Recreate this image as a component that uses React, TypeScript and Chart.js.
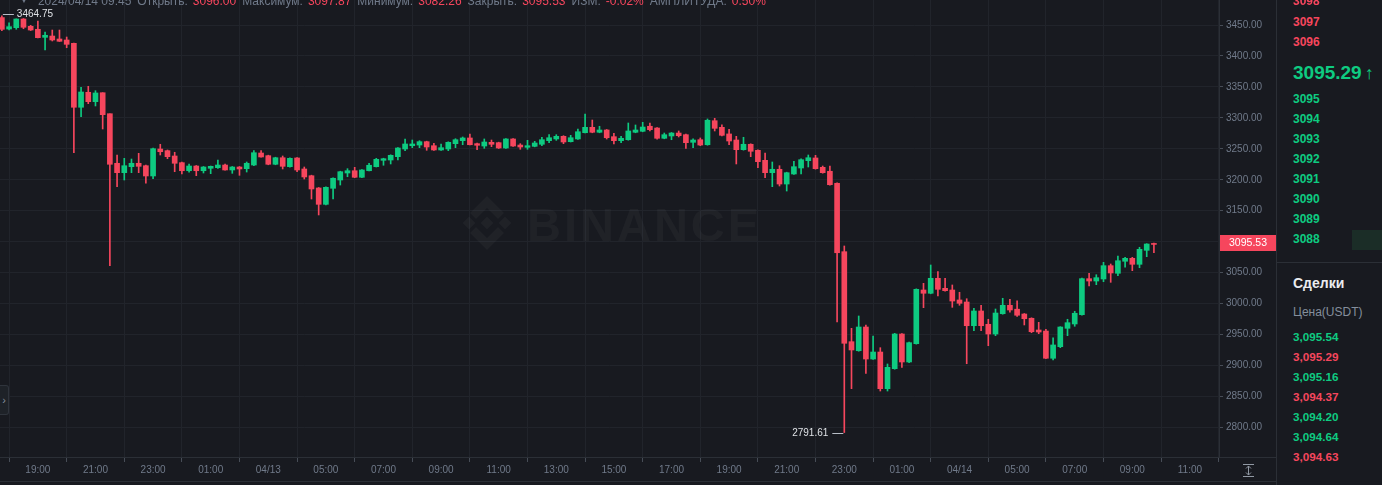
import React, { useEffect, useRef } from 'react';
import { Chart, registerables } from 'chart.js';
Chart.register(...registerables);

// 15-minute candles, 2024/04/12 17:45 .. 2024/04/14 09:45
const opens = [3462,3443.5,3445.7,3459.7,3447.9,3443.1,3430.1,3432.2,3427.4,3425.8,3420.4,3317.1,3341.3,3326.1,3340.6,3306.7,3226.6,3211.4,3221.1,3226.6,3222.7,3206.1,3249.7,3247.0,3238.4,3227.6,3214.6,3222.2,3214.6,3218.5,3219.5,3223.8,3215.8,3220.6,3217.9,3223.8,3243.2,3238.9,3225.0,3235.6,3221.1,3235.2,3217.4,3206.5,3186.7,3160.3,3186.2,3199.6,3210.9,3214.6,3204.0,3214.6,3221.1,3231.4,3231.9,3237.3,3249.7,3255.0,3256.1,3261.5,3255.0,3248.1,3249.7,3258.3,3263.1,3267.5,3258.3,3254.5,3260.5,3259.9,3251.3,3265.9,3256.1,3252.4,3254.0,3257.3,3263.1,3265.9,3270.2,3261.5,3265.9,3276.0,3284.7,3276.7,3280.4,3269.6,3263.1,3264.7,3276.7,3278.3,3286.4,3283.6,3267.0,3270.7,3275.5,3272.8,3260.5,3264.7,3256.6,3295.4,3284.7,3274.0,3264.2,3248.6,3257.3,3247.6,3231.4,3211.4,3216.9,3193.1,3209.3,3219.0,3230.8,3235.2,3220.1,3213.7,3194.3,3083.8,2938.4,2923.8,2962.1,2910.4,2921.7,2862.5,2894.8,2950.8,2905.6,2935.2,3021.9,3016.6,3040.8,3024.6,3021.9,3005.8,3002.5,2964.2,2988.0,2966.5,2950.8,2983.6,2997.2,2990.9,2983.1,2976.2,2957.3,2955.6,2911.6,2930.3,2960.0,2967.0,2982.0,3040.2,3036.4,3039.7,3061.2,3048.9,3068.3,3073.1,3063.4,3086.0,3096.00];
const highs = [3464.75,3453.7,3460,3460.5,3449.5,3456.5,3438.7,3441.9,3441.9,3430.6,3420.9,3349.4,3351.0,3343.9,3340.6,3306.7,3240.0,3234.6,3233.5,3242.7,3223.8,3251.3,3257.3,3248.1,3244.4,3228.7,3225.5,3223.0,3221.4,3222.2,3231.9,3225.5,3221.4,3221.4,3228.7,3247.0,3247.0,3239.7,3236.4,3238.4,3235.5,3236.0,3220.6,3207.4,3187.5,3188.6,3203.2,3213.8,3217.9,3220.1,3216.6,3226.6,3234.6,3234.8,3240.3,3252.1,3265.9,3264.2,3263.1,3262.3,3258.9,3257.8,3261.3,3266.3,3269.1,3273.9,3259.1,3265.9,3264.2,3260.7,3266.7,3266.7,3258.3,3263.7,3262.1,3268.6,3272.8,3272.8,3271.2,3271.8,3282.0,3306.2,3296.5,3286.4,3281.2,3275.1,3270.2,3291.7,3288.5,3292.8,3291.7,3284.4,3275.5,3276.3,3278.8,3273.6,3266.3,3267.5,3298.2,3299.3,3288.8,3281.5,3270.2,3268.6,3258.1,3248.4,3243.2,3228.7,3222.7,3212.2,3229.8,3234.0,3240.0,3239.5,3222.2,3222.2,3195.1,3093.0,2960.0,2979.9,2965.4,2947.6,2928.7,2902.4,2951.9,2951.6,2937.6,3023.8,3032.7,3062.3,3051.5,3040.8,3030.0,3018.2,3007.8,2992.3,2997.2,2974.6,2991.2,3008.5,3006.9,3004.6,2983.9,2977.0,2969.7,2958.4,2944.8,2962.6,2974.6,2987.5,3041.0,3048.9,3046.6,3066.6,3063.9,3076.8,3074.7,3074.7,3090.9,3096.7,3097.87];
const lows = [3441,3441.9,3443.1,3444.0,3441.1,3429.0,3409.6,3424.2,3423.4,3413.3,3243.7,3301.9,3322.9,3319.2,3282.0,3061.2,3188.8,3199.6,3211.4,3211.4,3194.3,3201.7,3240.0,3234.0,3213.0,3209.3,3212.1,3206.6,3210.9,3209.8,3218.5,3215.3,3210.4,3207.2,3212.5,3222.7,3236.3,3224.2,3224.2,3217.4,3220.3,3213.0,3201.2,3168.9,3143.1,3159.2,3168.9,3191.5,3204.9,3203.3,3203.2,3214.2,3220.6,3223.4,3225.5,3231.9,3247.0,3251.8,3251.8,3247.6,3247.3,3247.3,3247.0,3251.8,3256.6,3256.1,3248.6,3250.8,3253.4,3250.5,3250.8,3253.7,3249.2,3249.2,3253.2,3255.0,3259.9,3263.7,3258.3,3261.0,3265.0,3275.5,3275.9,3275.9,3265.8,3257.8,3259.9,3263.9,3275.9,3277.5,3278.8,3265.4,3266.2,3264.7,3269.1,3250.8,3251.8,3255.0,3255.8,3278.8,3270.7,3256.6,3225.5,3247.8,3237.3,3219.5,3203.3,3188.8,3189.9,3181.8,3208.5,3209.3,3220.6,3217.1,3210.6,3191.2,2970.2,2791.61,2862.5,2923.0,2887.3,2909.6,2858.7,2858.7,2893.9,2897.0,2904.5,2934.4,2993.3,3015.8,3012.2,3020.0,2993.9,2997.2,2902.8,2956.2,2956.2,2931.9,2948.1,2982.8,2985.9,2979.4,2965.4,2952.9,2951.3,2910.8,2908.8,2928.7,2948.1,2963.3,2981.2,3028.4,3030.5,3035.3,3034.3,3045.0,3058.6,3053.1,3057.9,3075.7,3082.26];
const closes = [3443,3447.3,3459.7,3446.3,3441.9,3429.5,3433.4,3425.8,3423.7,3418.8,3317.1,3341.8,3326.1,3340.2,3305.1,3225.0,3211.4,3222.7,3226.6,3221.7,3206.1,3250.2,3245.3,3237.3,3226.6,3214.6,3222.2,3214.6,3220.6,3221.7,3223.8,3215.8,3220.6,3217.4,3226.6,3243.7,3236.8,3225.0,3235.6,3221.7,3234.6,3215.8,3204.5,3185.1,3160.3,3187.8,3202.4,3213.0,3214.6,3204.0,3215.8,3223.4,3233.0,3234.0,3239.5,3251.3,3257.8,3257.8,3261.5,3252.9,3248.1,3251.8,3260.5,3264.7,3267.5,3256.6,3255.7,3261.0,3257.3,3251.3,3265.9,3254.5,3252.9,3255.0,3259.4,3264.7,3267.9,3270.2,3261.0,3267.9,3277.6,3284.7,3276.7,3280.4,3267.9,3263.1,3267.0,3278.8,3280.4,3285.2,3280.9,3267.0,3272.8,3275.5,3271.2,3259.9,3264.2,3256.1,3296.1,3283.1,3271.8,3262.6,3248.6,3257.3,3246.0,3229.2,3211.4,3216.9,3193.1,3211.4,3221.1,3232.4,3235.6,3217.9,3211.4,3192.0,3082.1,2935.8,2925.0,2962.1,2910.4,2921.7,2862.5,2897.0,2950.8,2905.6,2936.8,3023.0,3016.6,3040.8,3023.0,3020.8,3004.1,3000.4,2964.2,2988.0,2964.2,2950.8,2984.7,2997.2,2989.6,2981.1,2975.5,2954.5,2954.0,2911.6,2933.1,2962.1,2969.1,2984.3,3040.2,3036.4,3041.8,3061.2,3049.4,3069.2,3073.1,3063.4,3087.6,3096.2,3095.53];

const xTickIndex = [5,13,21,29,37,45,53,61,69,77,85,93,101,109,117,125,133,141,149,157,165];
const xTickLabels = ['19:00','21:00','23:00','01:00','04/13','05:00','07:00','09:00','11:00','13:00','15:00','17:00','19:00','21:00','23:00','01:00','04/14','05:00','07:00','09:00','11:00'];
const yTicks = [2800,2850,2900,2950,3000,3050,3100,3150,3200,3250,3300,3350,3400,3450];

const headerLabels = ['Открыть:','Максимум:','Минимум:','Закрыть:','ИЗМ:','АМПЛИТУДА:'];
const headerValues = ['3096.00','3097.87','3082.26','3095.53','-0.02%','0.50%'];
const askPrices = ['3098','3097','3096'];
const midPrice = '3095.29';
const bidPrices = ['3095','3094','3093','3092','3091','3090','3089','3088'];
const tradePrices = ['3,095.54','3,095.29','3,095.16','3,094.37','3,094.20','3,094.64','3,094.63'];
const tradeUp = [true,false,true,false,true,true,false];

const BG = '#181a20';
const UP = '#0ecb81';
const DOWN = '#f6465d';
const GRID = '#21242b';
const LINE = '#2b2f36';
const LABEL = '#707a8a';
const FONT = "'Liberation Sans', Arial, sans-serif";

const X_MIN = -0.26, X_MAX = 169.04;
const Y_MIN = 2752.1, Y_MAX = 3490.4;

const overlayPlugin = {
  id: 'overlay',
  beforeDatasetsDraw(chart: any) {
    const { ctx } = chart;
    ctx.save();
    ctx.fillStyle = 'rgba(255,255,255,0.035)';
    const cx = 487, cy = 223;
    const dia = (x: number, y: number, r: number) => {
      ctx.beginPath(); ctx.moveTo(x, y - r); ctx.lineTo(x + r, y); ctx.lineTo(x, y + r); ctx.lineTo(x - r, y); ctx.closePath(); ctx.fill();
    };
    dia(cx, cy, 6.5); dia(cx - 18, cy, 6.5); dia(cx + 18, cy, 6.5);
    const chev = (s: number) => {
      ctx.beginPath();
      ctx.moveTo(cx, cy - 27 * s);
      ctx.lineTo(cx + 17, cy - 10 * s);
      ctx.lineTo(cx + 11, cy - 4 * s);
      ctx.lineTo(cx, cy - 15 * s);
      ctx.lineTo(cx - 11, cy - 4 * s);
      ctx.lineTo(cx - 17, cy - 10 * s);
      ctx.closePath(); ctx.fill();
    };
    chev(1); chev(-1);
    ctx.font = `bold 47px ${FONT}`;
    try { (ctx as any).letterSpacing = '3px'; } catch (e) {}
    ctx.textBaseline = 'alphabetic';
    ctx.textAlign = 'left';
    ctx.fillText('BINANCE', 527, 241);
    try { (ctx as any).letterSpacing = '0px'; } catch (e) {}
    ctx.restore();
  },
  afterDraw(chart: any) {
    const { ctx, scales, chartArea } = chart;
    const xs = scales.x, ys = scales.y;
    ctx.save();
    let iMax = 0, iMin = 0;
    highs.forEach((v, i) => { if (v > highs[iMax]) iMax = i; });
    lows.forEach((v, i) => { if (v < lows[iMin]) iMin = i; });
    ctx.font = `10px ${FONT}`;
    ctx.textBaseline = 'middle';
    ctx.strokeStyle = '#b7bdc6';
    ctx.lineWidth = 1;
    ctx.fillStyle = '#dfe2e6';
    let px = xs.getPixelForValue(iMax), py = Math.round(ys.getPixelForValue(highs[iMax])) - 1.5;
    ctx.beginPath(); ctx.moveTo(px + 1, py); ctx.lineTo(px + 12, py); ctx.stroke();
    ctx.textAlign = 'left';
    ctx.fillText(highs[iMax].toFixed(2), px + 15, py);
    px = xs.getPixelForValue(iMin); py = Math.round(ys.getPixelForValue(lows[iMin])) + 0.5;
    ctx.beginPath(); ctx.moveTo(px - 12, py); ctx.lineTo(px - 1, py); ctx.stroke();
    ctx.textAlign = 'right';
    ctx.fillText(lows[iMin].toFixed(2), px - 16, py);
    const last = closes[closes.length - 1];
    const ly = ys.getPixelForValue(last) - 1.5;
    ctx.fillStyle = closes[closes.length - 1] >= opens[opens.length - 1] ? UP : DOWN;
    ctx.fillRect(chartArea.right + 1, Math.round(ly - 8), 56, 16);
    ctx.fillStyle = '#ffffff';
    ctx.textAlign = 'center';
    ctx.font = `10.5px ${FONT}`;
    ctx.fillText(last.toFixed(2), chartArea.right + 29, Math.round(ly) + 0.5);
    ctx.restore();
  },
};

function Row(props: { top: number; color: string; size: number; bold?: boolean; children: any; left?: number }) {
  return (
    <div style={{ position: 'absolute', left: props.left ?? 1293, top: props.top - 10, height: 20, lineHeight: '20px', fontSize: props.size, fontWeight: props.bold ? 700 : 400, color: props.color, whiteSpace: 'nowrap', fontFamily: FONT }}>
      {props.children}
    </div>
  );
}

export default function App() {
  const ref = useRef<HTMLCanvasElement>(null);
  useEffect(() => {
    document.body.style.margin = '0';
    document.body.style.background = BG;
    Chart.defaults.font.family = FONT;
    const idx = opens.map((_, i) => i);
    const colors = idx.map((i) => (closes[i] >= opens[i] ? UP : DOWN));
    const chart = new Chart(ref.current as HTMLCanvasElement, {
      type: 'bar',
      data: {
        datasets: [
          { label: 'body', data: idx.map((i) => ({ x: i, y: [opens[i], closes[i]] })) as any, backgroundColor: colors, barThickness: 5, minBarLength: 1, grouped: false, order: 0, borderWidth: 0 } as any,
          { label: 'wick', data: idx.map((i) => ({ x: i, y: [lows[i], highs[i]] })) as any, backgroundColor: colors, barThickness: 1, grouped: false, order: 1, borderWidth: 0 } as any,
        ],
      },
      options: {
        animation: false,
        responsive: false,
        events: [],
        layout: { padding: 0, autoPadding: false } as any,
        plugins: { legend: { display: false }, tooltip: { enabled: false } },
        scales: {
          x: {
            type: 'linear', min: X_MIN, max: X_MAX, offset: false,
            grid: { color: GRID, tickColor: '#474d57', tickLength: 5, drawTicks: true },
            border: { display: true, color: LINE },
            ticks: {
              color: LABEL, font: { size: 10, family: FONT }, padding: 2, maxRotation: 0, autoSkip: false,
              callback: (v: any) => { const k = xTickIndex.indexOf(Number(v)); return k >= 0 ? xTickLabels[k] : ''; },
            },
            afterBuildTicks: (s: any) => { s.ticks = xTickIndex.map((v) => ({ value: v })); },
            afterFit: (s: any) => { s.height = 25; s.paddingLeft = 0; s.paddingRight = 0; },
          },
          y: {
            type: 'linear', position: 'right', min: Y_MIN, max: Y_MAX,
            grid: { color: GRID, tickColor: '#474d57', tickLength: 4, drawTicks: true },
            border: { display: true, color: LINE },
            ticks: { color: LABEL, font: { size: 10, family: FONT }, padding: 3, callback: (v: any) => Number(v).toFixed(2) },
            afterBuildTicks: (s: any) => { s.ticks = yTicks.map((v) => ({ value: v })); },
            afterFit: (s: any) => { s.width = 58; s.paddingTop = 0; s.paddingBottom = 0; },
          },
        } as any,
      },
      plugins: [overlayPlugin as any],
    });
    return () => chart.destroy();
  }, []);

  return (
    <div style={{ position: 'fixed', left: 0, top: 0, width: 1382, height: 485, background: BG, overflow: 'hidden', fontFamily: FONT }}>
      <canvas ref={ref} width={1277} height={482} style={{ position: 'absolute', left: 0, top: 0, width: 1277, height: 482 }} />
      <div style={{ position: 'absolute', left: 20, top: -6, height: 14, lineHeight: '14px', fontSize: 12, whiteSpace: 'pre', color: LABEL }}>
        <span style={{ fontSize: 8, marginRight: 10, position: 'relative', top: -2 }}>▼</span>
        <span>2024/04/14 09:45</span>
        {headerLabels.map((l, i) => (
          <span key={i}>
            <span style={{ marginLeft: 6 }}>{l}</span>
            <span style={{ marginLeft: 5, color: DOWN }}>{headerValues[i]}</span>
          </span>
        ))}
      </div>
      <div style={{ position: 'absolute', left: 0, top: 385, width: 8, height: 28, border: '1px solid #2f343c', borderLeft: 'none', borderRadius: '0 3px 3px 0', background: '#1e2228', color: '#848e9c', fontSize: 11, lineHeight: '28px', textAlign: 'center' }}>›</div>
      <div style={{ position: 'absolute', left: 1219, top: 457, width: 58, height: 1, background: LINE }} />
      <div style={{ position: 'absolute', left: 0, top: 481, width: 1277, height: 1, background: LINE }} />
      <svg style={{ position: 'absolute', left: 1242, top: 464 }} width={13} height={13} viewBox="0 0 13 13">
        <line x1="1" y1="0.5" x2="12" y2="0.5" stroke="#9098a3" strokeWidth="1" />
        <line x1="1" y1="12.5" x2="12" y2="12.5" stroke="#9098a3" strokeWidth="1" />
        <line x1="6.5" y1="2" x2="6.5" y2="11" stroke="#9098a3" strokeWidth="1" />
        <polyline points="4,4.5 6.5,2 9,4.5" fill="none" stroke="#9098a3" strokeWidth="1" />
        <polyline points="4,8.5 6.5,11 9,8.5" fill="none" stroke="#9098a3" strokeWidth="1" />
      </svg>
      <div style={{ position: 'absolute', left: 1276, top: 0, width: 1, height: 485, background: LINE }} />
      <div style={{ position: 'absolute', left: 1277, top: 262, width: 105, height: 1, background: LINE }} />
      <div style={{ position: 'absolute', left: 1352, top: 230, width: 30, height: 20, background: '#1b2d27' }} />
      {askPrices.map((p, i) => (
        <Row key={'a' + i} top={1.3 + i * 20.2} color={DOWN} size={12} bold>{p}</Row>
      ))}
      <Row top={73} color={UP} size={19} bold>{midPrice}<span style={{ fontSize: 18, marginLeft: 3 }}>↑</span></Row>
      {bidPrices.map((p, i) => (
        <Row key={'b' + i} top={99.3 + i * 20} color={UP} size={12} bold>{p}</Row>
      ))}
      <Row top={283.3} color="#eaecef" size={14} bold>Сделки</Row>
      <Row top={311.5} color="#848e9c" size={12}>Цена(USDT)</Row>
      {tradePrices.map((p, i) => (
        <Row key={'t' + i} top={337.3 + i * 20} color={tradeUp[i] ? UP : DOWN} size={11.7} bold>{p}</Row>
      ))}
    </div>
  );
}
